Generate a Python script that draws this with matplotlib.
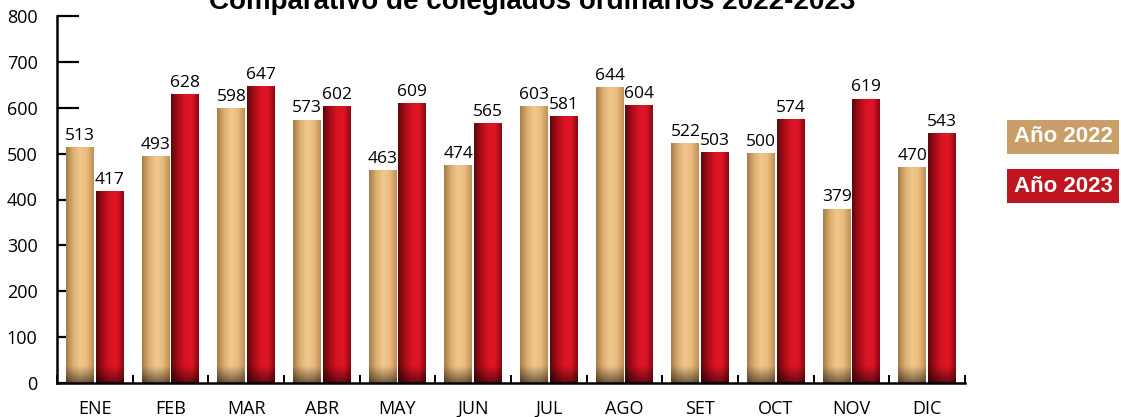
import numpy as np
import matplotlib.pyplot as plt
from matplotlib.colors import LinearSegmentedColormap

meses = ["ENE", "FEB", "MAR", "ABR", "MAY", "JUN", "JUL", "AGO", "SET", "OCT", "NOV", "DIC"]
v2022 = [513, 493, 598, 573, 463, 474, 603, 644, 522, 500, 379, 470]
v2023 = [417, 628, 647, 602, 609, 565, 581, 604, 503, 574, 619, 543]

tan_cm = LinearSegmentedColormap.from_list("tan", ["#a67c4c", "#dcae6e", "#f0c890", "#eabb7c", "#c09058"])
red_cm = LinearSegmentedColormap.from_list("red", ["#5e080d", "#a80c18", "#d81424", "#e01526", "#8a0a14"])

fig = plt.figure(figsize=(11.21, 4.17), dpi=100)
ax = fig.add_axes([57 / 1121, 34 / 417, 908 / 1121, 367 / 417])

x = np.arange(len(meses))
w = 0.37
gap = 0.02

# horizontal shading with a darker foot on each bar
h = np.linspace(0, 1, 64)
v = np.linspace(0, 1, 100)
H, V = np.meshgrid(h, v)


def shaded_bar(x0, val, cmap):
    img = cmap(H)[..., :3].copy()
    foot = np.clip((V * val) / 35.0, 0, 1)[..., None]  # V=0 at bottom
    img = img * (0.5 + 0.5 * foot)
    ax.imshow(img, extent=[x0, x0 + w, 0, val], origin="lower", aspect="auto",
              interpolation="bilinear", zorder=2)


for i in x:
    x0 = i - w - gap / 2
    x1 = i + gap / 2
    shaded_bar(x0, v2022[i], tan_cm)
    shaded_bar(x1, v2023[i], red_cm)
    ax.text(x0 + w / 2, v2022[i] + 8, str(v2022[i]), ha="center", va="bottom", fontsize=12.5,
            family="Open Sans")
    ax.text(x1 + w / 2, v2023[i] + 8, str(v2023[i]), ha="center", va="bottom", fontsize=12.5,
            family="Open Sans")

ax.set_xlim(-0.5, len(meses) - 0.5)
ax.set_ylim(0, 800)
ax.set_yticks(range(0, 801, 100))
ax.set_xticks(x)
ax.set_xticklabels(meses, fontsize=13, family="Open Sans")
ax.set_xticks(np.arange(-0.5, len(meses)), minor=True)
for lab in ax.get_yticklabels():
    lab.set_fontsize(13)
    lab.set_family("Open Sans")

ax.spines["top"].set_visible(False)
ax.spines["right"].set_visible(False)
ax.spines["left"].set_linewidth(1.8)
ax.spines["bottom"].set_linewidth(1.8)
ax.tick_params(axis="y", direction="in", length=16, width=1.6, pad=14)
ax.tick_params(axis="x", which="major", length=0, pad=12)
ax.tick_params(axis="x", which="minor", direction="in", length=6, width=1.4)

# title is cropped at the top edge, as in the original picture
fig.text(532 / 1121, 1.0 + 11 / 417, "Comparativo de colegiados ordinarios 2022-2023",
         ha="center", va="top", fontsize=20, fontweight="bold", family="Liberation Sans")

# legend boxes on the right
fig.text(1063 / 1121, 1 - 137 / 417, "Año 2022", ha="center", va="center", color="white",
         fontsize=16, fontweight="bold", family="Liberation Sans",
         bbox=dict(boxstyle="square,pad=0.3", fc="#c99e68", ec="none"))
fig.text(1063 / 1121, 1 - 186 / 417, "Año 2023", ha="center", va="center", color="white",
         fontsize=16, fontweight="bold", family="Liberation Sans",
         bbox=dict(boxstyle="square,pad=0.3", fc="#c0141f", ec="none"))

fig.savefig("out.png", dpi=100)
